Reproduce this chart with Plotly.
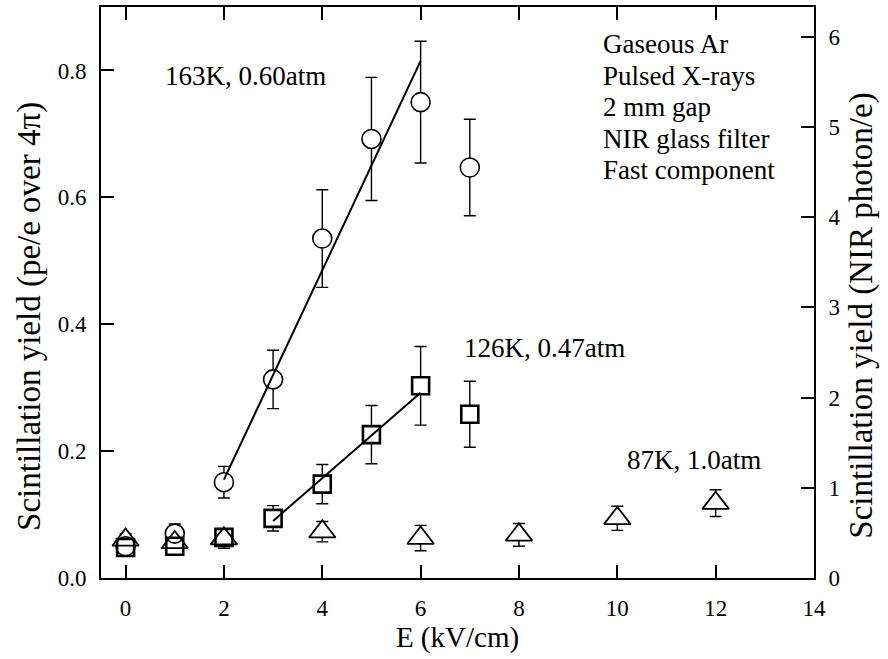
import plotly.graph_objects as go

# ---- data ----
E_163 = [0, 1, 2, 3, 4, 5, 6, 7]
Y_163 = [0.050, 0.070, 0.151, 0.313, 0.535, 0.692, 0.750, 0.647]
ERR_163 = [0.010, 0.015, 0.025, 0.046, 0.077, 0.097, 0.096, 0.076]

E_126 = [0, 1, 2, 3, 4, 5, 6, 7]
Y_126 = [0.048, 0.050, 0.064, 0.094, 0.148, 0.226, 0.303, 0.258]
ERR_126 = [0.008, 0.012, 0.012, 0.020, 0.031, 0.046, 0.062, 0.052]

E_87 = [0, 1, 2, 4, 6, 8, 10, 12]
Y_87 = [0.060, 0.056, 0.062, 0.073, 0.063, 0.068, 0.094, 0.118]
ERR_87 = [0.010, 0.012, 0.015, 0.016, 0.020, 0.018, 0.019, 0.021]

FIT_163_X = [2, 6]
FIT_163_Y = [0.155, 0.815]
FIT_126_X = [3, 6]
FIT_126_Y = [0.090, 0.292]

X_TICKS = [0, 2, 4, 6, 8, 10, 12, 14]
Y_TICKS = [0.0, 0.2, 0.4, 0.6, 0.8]
Y2_TICKS = [0, 1, 2, 3, 4, 5, 6]

INFO_LINES = ["Gaseous Ar", "Pulsed X-rays", "2 mm gap", "NIR glass filter", "Fast component"]
INFO_Y = [0.841, 0.792, 0.742, 0.692, 0.643]

X_TITLE = "E (kV/cm)"
Y_TITLE = "Scintillation yield (pe/e over 4π)"
Y2_TITLE = "Scintillation yield (NIR photon/e)"

FONT = "Liberation Serif"
series = [
    (E_163, Y_163, ERR_163, "circle", 19, 1.6),
    (E_126, Y_126, ERR_126, "square", 17, 2.6),
    (E_87, Y_87, ERR_87, "triangle-up", 23, 1.8),
]

fig = go.Figure()

# error bars
for xs, ys, es, sym, sz, lw in series:
    fig.add_trace(go.Scatter(
        x=xs, y=ys, mode="markers",
        marker=dict(size=1, color="rgba(0,0,0,0)"),
        error_y=dict(type="data", array=es, visible=True, color="black",
                     thickness=1.4, width=6),
        showlegend=False, hoverinfo="skip"))

# white fills hiding the bars inside the markers
for xs, ys, es, sym, sz, lw in series:
    fig.add_trace(go.Scatter(
        x=xs, y=ys, mode="markers",
        marker=dict(symbol=sym, size=sz, color="white",
                    line=dict(width=0, color="white")),
        showlegend=False, hoverinfo="skip"))

# fit lines
fig.add_trace(go.Scatter(x=FIT_163_X, y=FIT_163_Y, mode="lines",
                         line=dict(color="black", width=2), showlegend=False))
fig.add_trace(go.Scatter(x=FIT_126_X, y=FIT_126_Y, mode="lines",
                         line=dict(color="black", width=2), showlegend=False))

# open marker outlines
for xs, ys, es, sym, sz, lw in series:
    fig.add_trace(go.Scatter(
        x=xs, y=ys, mode="markers",
        marker=dict(symbol=sym + "-open", size=sz, color="black",
                    line=dict(width=lw, color="black")),
        showlegend=False))

# placeholder trace so the right axis is drawn
fig.add_trace(go.Scatter(x=[None], y=[None], yaxis="y2", showlegend=False))

annotations = [
    dict(x=0.77, y=0.791, text="163K, 0.60atm", xanchor="left", yanchor="middle"),
    dict(x=6.84, y=0.363, text="126K, 0.47atm", xanchor="left", yanchor="middle"),
    dict(x=10.16, y=0.186, text="87K, 1.0atm", xanchor="left", yanchor="middle"),
]
for t, yy in zip(INFO_LINES, INFO_Y):
    annotations.append(dict(x=9.66, y=yy, text=t, xanchor="left", yanchor="middle"))
for a in annotations:
    a.update(xref="x", yref="y", showarrow=False,
             font=dict(family=FONT, size=27, color="black"))

# axis titles on the y sides (as rotated annotations)
annotations.append(dict(text=Y_TITLE, xref="paper", yref="paper", x=-0.0996, y=0.459,
                        textangle=-90, showarrow=False, xanchor="center", yanchor="middle",
                        font=dict(family=FONT, size=33, color="black")))
annotations.append(dict(text=Y2_TITLE, xref="paper", yref="paper", x=1.067, y=0.459,
                        textangle=-90, showarrow=False, xanchor="center", yanchor="middle",
                        font=dict(family=FONT, size=33, color="black")))

fig.update_layout(
    width=888, height=659,
    margin=dict(l=101, r=74, t=5, b=81),
    paper_bgcolor="white", plot_bgcolor="white",
    font=dict(family=FONT, size=23, color="black"),
    xaxis=dict(range=[-0.5, 14], tickvals=X_TICKS, ticks="inside", ticklen=13,
               tickwidth=2, tickcolor="black", showline=True, linewidth=2,
               linecolor="black", mirror="ticks", showgrid=False, zeroline=False,
               ticklabelstandoff=8,
               title=dict(text=X_TITLE, font=dict(size=29), standoff=4)),
    yaxis=dict(range=[0, 0.9], tickvals=Y_TICKS, tickformat=".1f", ticks="inside",
               ticklen=13, tickwidth=2, tickcolor="black", showline=True,
               linewidth=2, linecolor="black", showgrid=False, zeroline=False,
               ticklabelstandoff=8),
    yaxis2=dict(range=[0, 6.33], tickvals=Y2_TICKS, overlaying="y", side="right",
                ticks="inside", ticklen=13, tickwidth=2, tickcolor="black",
                showline=True, linewidth=2, linecolor="black", showgrid=False,
                zeroline=False, ticklabelstandoff=8),
    annotations=annotations,
)

fig.write_html("out.html")
